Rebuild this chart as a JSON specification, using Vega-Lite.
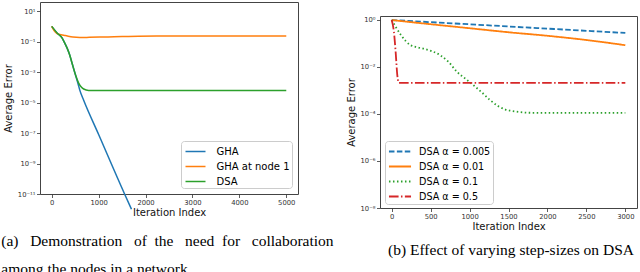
{
  "$schema": "https://vega.github.io/schema/vega-lite/v6.json",
  "padding": {"left": 0, "top": 1, "right": 0, "bottom": 0},
  "spacing": 82,
  "bounds": "flush",
  "resolve": {"scale": {"x": "independent", "y": "independent", "color": "independent", "strokeDash": "independent"}, "legend": {"color": "independent", "strokeDash": "independent"}},
  "config": {
    "view": {"stroke": "#444", "strokeWidth": 1},
    "axis": {"grid": false, "domain": false, "tickColor": "#333", "tickSize": 3.5, "tickWidth": 0.8, "labelFont": "DejaVu Sans", "labelFontSize": 6.8, "labelColor": "#333", "labelPadding": 1.5, "labelFlush": false, "labelOverlap": false, "titleFont": "DejaVu Sans", "titleFontSize": 10, "titleFontWeight": "normal", "titleColor": "#111", "titlePadding": 2},
    "legend": {"title": null, "labelFont": "DejaVu Sans", "labelFontSize": 10, "labelColor": "#000", "strokeColor": "#ccc", "cornerRadius": 3, "fillColor": "rgba(255,255,255,0.85)"},
    "title": {"font": "Liberation Serif", "fontSize": 15.5, "fontWeight": "normal", "color": "#000"},
    "line": {"clip": true}
  },
  "datasets": {
    "a": [
      {"s": "GHA", "x": 0, "y": 1},
      {"s": "GHA", "x": 113, "y": 0.3715},
      {"s": "GHA", "x": 220, "y": 0.1738},
      {"s": "GHA", "x": 270, "y": 0.0891},
      {"s": "GHA", "x": 326, "y": 0.0389},
      {"s": "GHA", "x": 380, "y": 0.01413},
      {"s": "GHA", "x": 432, "y": 0.00398},
      {"s": "GHA", "x": 504, "y": 0.000692},
      {"s": "GHA", "x": 560, "y": 0.000178},
      {"s": "GHA", "x": 600, "y": 0.0000631},
      {"s": "GHA", "x": 681, "y": 0.0000141},
      {"s": "GHA", "x": 1000, "y": 0.0000000794},
      {"s": "GHA", "x": 1553, "y": 0.00000000001},
      {"s": "GHA", "x": 1700, "y": 0.000000000001},
      {"s": "GHA at node 1", "x": 0, "y": 1},
      {"s": "GHA at node 1", "x": 50, "y": 0.525},
      {"s": "GHA at node 1", "x": 113, "y": 0.339},
      {"s": "GHA at node 1", "x": 200, "y": 0.282},
      {"s": "GHA at node 1", "x": 290, "y": 0.251},
      {"s": "GHA at node 1", "x": 450, "y": 0.1995},
      {"s": "GHA at node 1", "x": 600, "y": 0.1862},
      {"s": "GHA at node 1", "x": 800, "y": 0.1905},
      {"s": "GHA at node 1", "x": 1200, "y": 0.2042},
      {"s": "GHA at node 1", "x": 1500, "y": 0.2138},
      {"s": "GHA at node 1", "x": 1850, "y": 0.2291},
      {"s": "GHA at node 1", "x": 2500, "y": 0.2344},
      {"s": "GHA at node 1", "x": 5000, "y": 0.2344},
      {"s": "DSA", "x": 0, "y": 1},
      {"s": "DSA", "x": 113, "y": 0.3715},
      {"s": "DSA", "x": 220, "y": 0.1738},
      {"s": "DSA", "x": 270, "y": 0.0891},
      {"s": "DSA", "x": 326, "y": 0.0389},
      {"s": "DSA", "x": 380, "y": 0.01413},
      {"s": "DSA", "x": 432, "y": 0.00398},
      {"s": "DSA", "x": 504, "y": 0.000692},
      {"s": "DSA", "x": 574, "y": 0.0001905},
      {"s": "DSA", "x": 630, "y": 0.0001047},
      {"s": "DSA", "x": 681, "y": 0.0000776},
      {"s": "DSA", "x": 787, "y": 0.0000631},
      {"s": "DSA", "x": 1500, "y": 0.0000631},
      {"s": "DSA", "x": 5000, "y": 0.0000631}
    ],
    "b": [
      {"s": "DSA α = 0.005", "x": 0, "y": 0.95},
      {"s": "DSA α = 0.005", "x": 1000, "y": 0.627},
      {"s": "DSA α = 0.005", "x": 2000, "y": 0.41},
      {"s": "DSA α = 0.005", "x": 3000, "y": 0.269},
      {"s": "DSA α = 0.01", "x": 0, "y": 0.95},
      {"s": "DSA α = 0.01", "x": 500, "y": 0.631},
      {"s": "DSA α = 0.01", "x": 1000, "y": 0.427},
      {"s": "DSA α = 0.01", "x": 1500, "y": 0.288},
      {"s": "DSA α = 0.01", "x": 2000, "y": 0.204},
      {"s": "DSA α = 0.01", "x": 2500, "y": 0.135},
      {"s": "DSA α = 0.01", "x": 3000, "y": 0.0813},
      {"s": "DSA α = 0.1", "x": 0, "y": 0.95},
      {"s": "DSA α = 0.1", "x": 243, "y": 0.0813},
      {"s": "DSA α = 0.1", "x": 330, "y": 0.0661},
      {"s": "DSA α = 0.1", "x": 412, "y": 0.0575},
      {"s": "DSA α = 0.1", "x": 520, "y": 0.0447},
      {"s": "DSA α = 0.1", "x": 626, "y": 0.0302},
      {"s": "DSA α = 0.1", "x": 730, "y": 0.01585},
      {"s": "DSA α = 0.1", "x": 838, "y": 0.00603},
      {"s": "DSA α = 0.1", "x": 950, "y": 0.00302},
      {"s": "DSA α = 0.1", "x": 1051, "y": 0.00162},
      {"s": "DSA α = 0.1", "x": 1160, "y": 0.000794},
      {"s": "DSA α = 0.1", "x": 1264, "y": 0.00038},
      {"s": "DSA α = 0.1", "x": 1370, "y": 0.000209},
      {"s": "DSA α = 0.1", "x": 1460, "y": 0.000151},
      {"s": "DSA α = 0.1", "x": 1583, "y": 0.000126},
      {"s": "DSA α = 0.1", "x": 1796, "y": 0.00011},
      {"s": "DSA α = 0.1", "x": 2400, "y": 0.00011},
      {"s": "DSA α = 0.1", "x": 3000, "y": 0.00011},
      {"s": "DSA α = 0.5", "x": 0, "y": 0.95},
      {"s": "DSA α = 0.5", "x": 29, "y": 0.295},
      {"s": "DSA α = 0.5", "x": 51, "y": 0.0417},
      {"s": "DSA α = 0.5", "x": 72, "y": 0.00437},
      {"s": "DSA α = 0.5", "x": 93, "y": 0.00204},
      {"s": "DSA α = 0.5", "x": 3000, "y": 0.00204}
    ]
  },
  "hconcat": [
    {
      "width": 258,
      "height": 192,
      "data": {"name": "a"},
      "title": {"text": ["(a) \u00a0\u00a0Demonstration \u00a0\u00a0of \u00a0the \u00a0\u00a0need \u00a0for \u00a0\u00a0collaboration", "among the nodes in a network"], "orient": "bottom", "anchor": "start", "offset": 16.5, "lineHeight": 28, "dx": -2},
      "mark": {"type": "line", "strokeWidth": 1.5, "interpolate": "monotone"},
      "encoding": {
        "x": {"field": "x", "type": "quantitative", "scale": {"domain": [-250, 5250], "nice": false, "zero": false}, "axis": {"title": "Iteration Index", "values": [0, 1000, 2000, 3000, 4000, 5000], "format": "d"}},
        "y": {"field": "y", "type": "quantitative", "scale": {"type": "log", "domain": [1e-11, 39.8], "nice": false}, "axis": {"title": "Average Error", "values": [10, 0.1, 0.001, 0.00001, 0.0000001, 0.000000001, 0.00000000001], "labelExpr": "datum.value >= 5 ? '10¹' : datum.value >= 0.05 ? '10⁻¹' : datum.value >= 0.0005 ? '10⁻³' : datum.value >= 0.000005 ? '10⁻⁵' : datum.value >= 0.00000005 ? '10⁻⁷' : datum.value >= 0.0000000005 ? '10⁻⁹' : '10⁻¹¹'", "titlePadding": 4}},
        "color": {"field": "s", "type": "nominal", "scale": {"domain": ["GHA", "GHA at node 1", "DSA"], "range": ["#1f77b4", "#ff7f0e", "#2ca02c"]}, "legend": {"orient": "bottom-right", "offset": 6, "padding": 1.5, "symbolType": "M-0.75,0H1.75", "symbolSize": 256, "symbolStrokeWidth": 1.5, "labelOffset": 16, "rowPadding": 1}}
      }
    },
    {
      "spacing": 12,
      "resolve": {"scale": {"color": "independent", "strokeDash": "independent"}, "legend": {"color": "independent", "strokeDash": "independent"}},
      "vconcat": [
        {
          "width": 257,
          "height": 1,
          "data": {"values": []},
          "mark": {"type": "point", "opacity": 0},
          "view": {"stroke": null}
        },
        {
          "width": 257,
          "height": 192,
          "data": {"name": "b"},
          "title": {"text": "(b) Effect of varying step-sizes on DSA", "orient": "bottom", "anchor": "end", "frame": "group", "offset": 11.5, "dx": -3},
          "mark": {"type": "line", "strokeWidth": 1.8, "interpolate": "monotone"},
          "encoding": {
            "x": {"field": "x", "type": "quantitative", "scale": {"domain": [-150, 3150], "nice": false, "zero": false}, "axis": {"title": "Iteration Index", "values": [0, 500, 1000, 1500, 2000, 2500, 3000], "format": "d"}},
            "y": {"field": "y", "type": "quantitative", "scale": {"type": "log", "domain": [1e-8, 1.41], "nice": false}, "axis": {"title": "Average Error", "values": [1, 0.01, 0.0001, 0.000001, 0.00000001], "labelExpr": "datum.value >= 0.5 ? '10⁰' : datum.value >= 0.005 ? '10⁻²' : datum.value >= 0.00005 ? '10⁻⁴' : datum.value >= 0.0000005 ? '10⁻⁶' : '10⁻⁸'", "titlePadding": 4}},
            "color": {"field": "s", "type": "nominal", "scale": {"domain": ["DSA α = 0.005", "DSA α = 0.01", "DSA α = 0.1", "DSA α = 0.5"], "range": ["#1f77b4", "#ff7f0e", "#2ca02c", "#d62728"]}, "legend": {"orient": "bottom-left", "offset": 4.5, "padding": 2, "symbolType": "M-0.87,0H2.07", "symbolSize": 225, "symbolStrokeWidth": 1.8, "labelOffset": 15, "rowPadding": 1, "labelFontSize": 9.6}},
            "strokeDash": {"field": "s", "type": "nominal", "scale": {"domain": ["DSA α = 0.005", "DSA α = 0.01", "DSA α = 0.1", "DSA α = 0.5"], "range": [[5.5, 2.4], [1, 0], [1.5, 2.5], [9.6, 2.4, 1.5, 2.4]]}, "legend": {"orient": "bottom-left", "offset": 4.5, "padding": 2, "symbolType": "M-0.87,0H2.07", "symbolSize": 225, "symbolStrokeWidth": 1.8, "labelOffset": 15, "rowPadding": 1, "labelFontSize": 9.6}}
          }
        }
      ]
    }
  ]
}
